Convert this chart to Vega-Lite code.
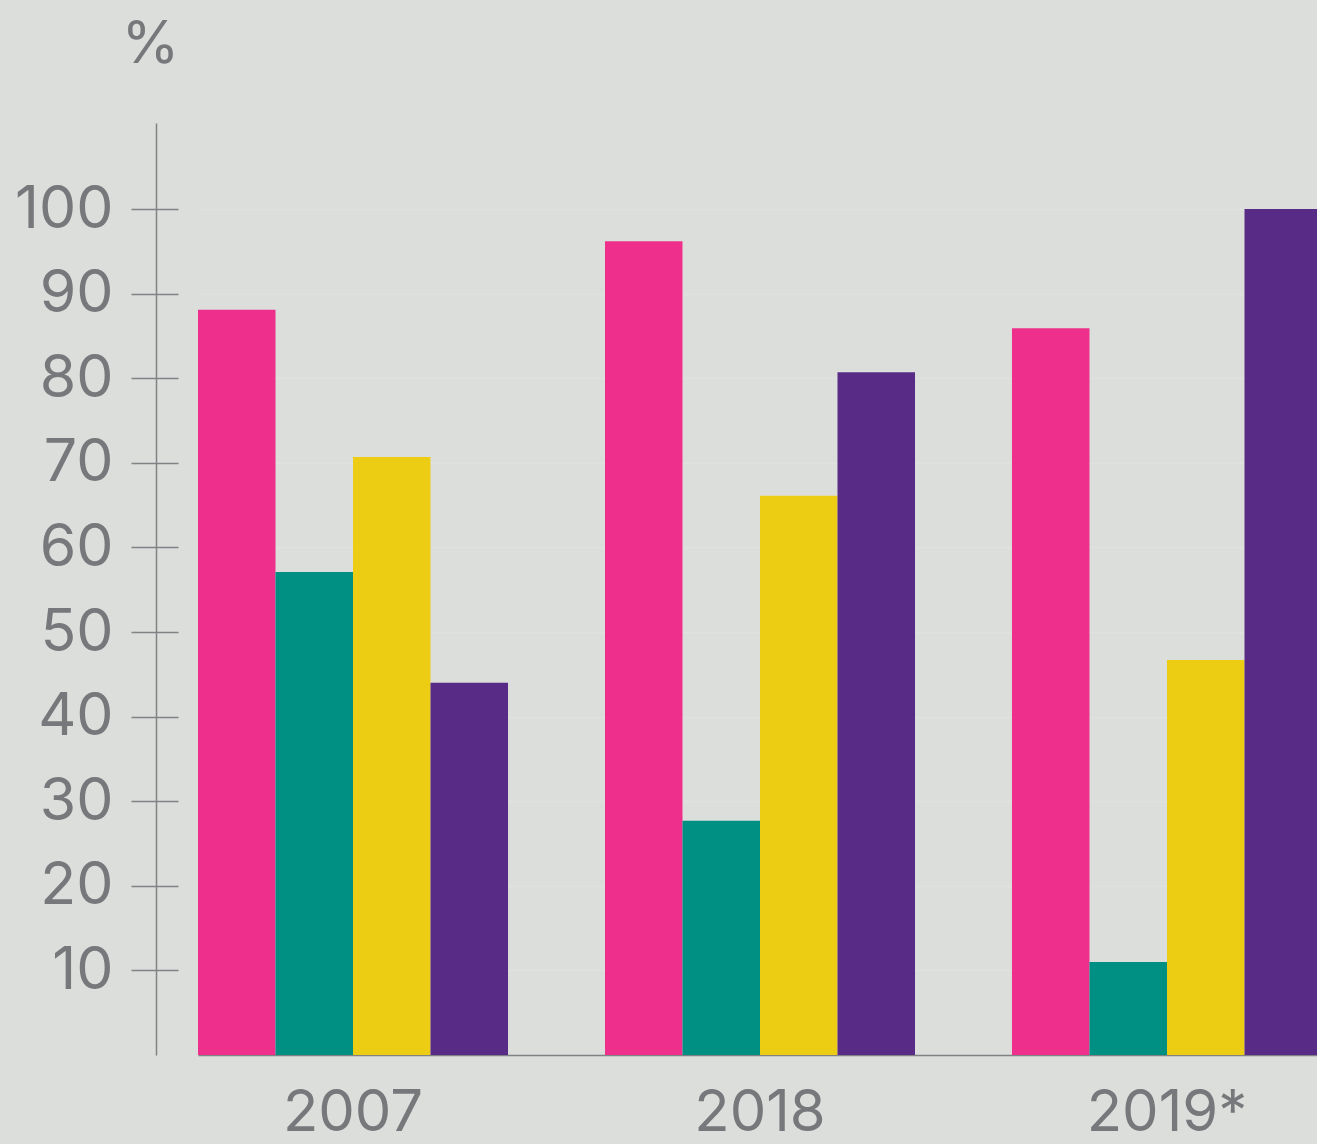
{
  "$schema": "https://vega.github.io/schema/vega-lite/v6.json",
  "width": 1097,
  "height": 932,
  "autosize": {"type": "none"},
  "padding": {"left": 156, "top": 123, "right": 64, "bottom": 89},
  "background": "#dcdedb",
  "config": {"view": {"stroke": null}},
  "data": {
    "values": [
      {"year": "2007", "series": "Series 1", "value": 88.1},
      {"year": "2007", "series": "Series 2", "value": 57.1},
      {"year": "2007", "series": "Series 3", "value": 70.7},
      {"year": "2007", "series": "Series 4", "value": 44.0},
      {"year": "2018", "series": "Series 1", "value": 96.2},
      {"year": "2018", "series": "Series 2", "value": 27.7},
      {"year": "2018", "series": "Series 3", "value": 66.1},
      {"year": "2018", "series": "Series 4", "value": 80.7},
      {"year": "2019*", "series": "Series 1", "value": 85.9},
      {"year": "2019*", "series": "Series 2", "value": 11.0},
      {"year": "2019*", "series": "Series 3", "value": 46.7},
      {"year": "2019*", "series": "Series 4", "value": 100}
    ]
  },
  "layer": [
    {
      "mark": {"type": "bar"},
      "encoding": {
        "x": {
          "field": "year",
          "type": "nominal",
          "sort": ["2007", "2018", "2019*"],
          "scale": {"range": [42, 1166], "paddingInner": 0.2383, "paddingOuter": 0},
          "axis": {
            "title": null,
            "domain": true,
            "domainColor": "#808285",
            "domainWidth": 1.5,
            "ticks": false,
            "tickSize": 0,
            "labelPadding": 29,
            "labelFont": "Inter",
            "labelFontSize": 58,
            "labelColor": "#77787b",
            "labelAngle": 0,
            "grid": false
          }
        },
        "xOffset": {
          "field": "series",
          "type": "nominal",
          "sort": ["Series 1", "Series 2", "Series 3", "Series 4"],
          "scale": {"paddingInner": 0, "paddingOuter": 0}
        },
        "y": {
          "field": "value",
          "type": "quantitative",
          "scale": {"domain": [0, 110.17], "nice": false},
          "axis": {
            "orient": "left",
            "values": [10, 20, 30, 40, 50, 60, 70, 80, 90, 100],
            "domain": true,
            "domainColor": "#808285",
            "domainWidth": 1.5,
            "ticks": true,
            "tickSize": 25,
            "tickColor": "#808285",
            "tickWidth": 1.5,
            "labelPadding": 18,
            "labelFont": "Inter",
            "labelFontSize": 59,
            "labelColor": "#77787b",
            "grid": true,
            "gridColor": "#e0e2df",
            "gridWidth": 1.5,
            "title": "%",
            "titleAngle": 0,
            "titleAlign": "center",
            "titleBaseline": "alphabetic",
            "titleX": -6,
            "titleY": -61,
            "titleFont": "Inter",
            "titleFontSize": 59,
            "titleFontWeight": "normal",
            "titleColor": "#77787b"
          }
        },
        "color": {
          "field": "series",
          "type": "nominal",
          "scale": {
            "domain": ["Series 1", "Series 2", "Series 3", "Series 4"],
            "range": ["#ee308c", "#008f83", "#edcd14", "#582c86"]
          },
          "legend": null
        }
      }
    },
    {
      "mark": {"type": "rule", "opacity": 0},
      "encoding": {
        "y": {
          "field": "value",
          "type": "quantitative",
          "axis": {
            "orient": "left",
            "offset": -22,
            "zindex": 1,
            "values": [10, 20, 30, 40, 50, 60, 70, 80, 90, 100],
            "domain": false,
            "ticks": true,
            "tickSize": 22,
            "tickColor": "#808285",
            "tickWidth": 1.5,
            "labels": false,
            "grid": false,
            "title": null
          }
        }
      }
    }
  ],
  "resolve": {"axis": {"y": "independent"}}
}
